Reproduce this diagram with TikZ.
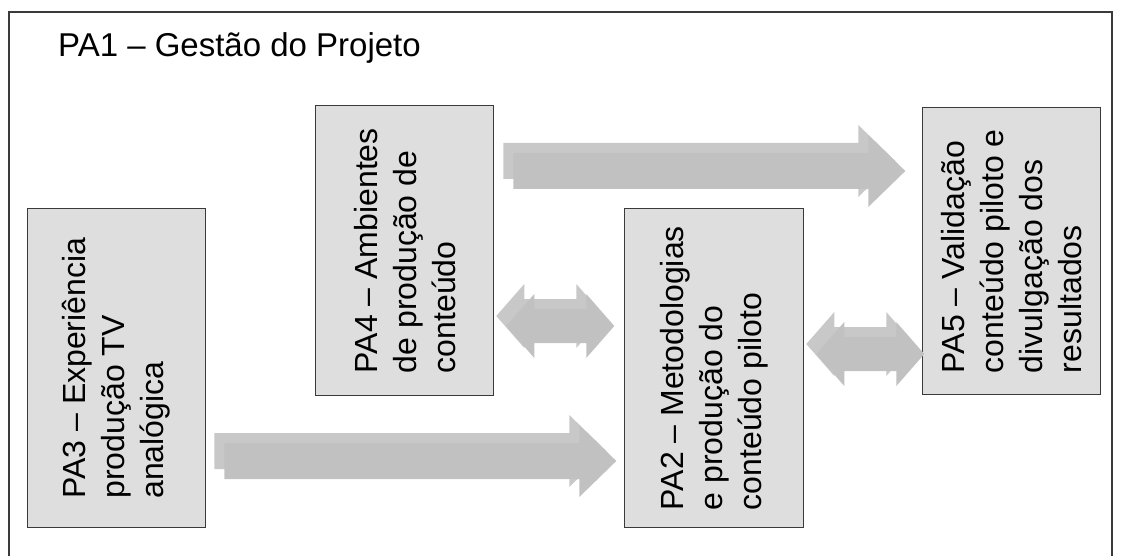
\documentclass[tikz,border=0pt]{standalone}
\usepackage{fontspec}
\setmainfont{Liberation Sans}
\usetikzlibrary{calc}

\definecolor{paframe}{HTML}{3A3A3A}
\definecolor{pafill}{HTML}{DEDEDE}
\definecolor{arrowback}{HTML}{C8C8C8}
\definecolor{arrowfront}{HTML}{C1C1C1}

\tikzset{
  pabox/.style={draw=paframe, fill=pafill, line width=1.3pt, anchor=north west, inner sep=0pt},
  patext/.style={rotate=90, align=left, inner sep=0pt, font=\fontsize{32}{39}\selectfont},
  pics/longarrow/.style={code={
    \foreach \dd/\col in {0/arrowback, 10/arrowfront}
      \fill[color=\col, shift={(\dd,\dd)}] (0,-18) -- (355,-18) -- (355,-36) -- (392,0)
        -- (355,36) -- (355,18) -- (0,18) -- cycle;
  }},
  pics/twoway/.style={code={
    \foreach \dd/\col in {0/arrowback, 10/arrowfront}
      \fill[color=\col, shift={(\dd,\dd)}] (0,0) -- (28,-32) -- (28,-17) -- (80,-17) -- (80,-32)
        -- (108,0) -- (80,32) -- (80,17) -- (28,17) -- (28,32) -- cycle;
  }},
}

\begin{document}
\begin{tikzpicture}[x=1pt, y=-1pt]
\useasboundingbox (0,0) rectangle (1121,556);
\clip (0,0) rectangle (1121,556);

% outer frame, open below
\draw[paframe, line width=1.3pt] (9,580) -- (9,12) -- (1112,12) -- (1112,580);
\node[anchor=base west, inner sep=0pt, font=\fontsize{33}{40}\selectfont] (pa1) at (58,57) {PA1 – Gestão do Projeto};

% work packages
\node[pabox, minimum width=178pt, minimum height=319pt] (pa3) at (27,208) {};
\node[pabox, minimum width=178pt, minimum height=290pt] (pa4) at (315,105) {};
\node[pabox, minimum width=179pt, minimum height=319pt] (pa2) at (624,208) {};
\node[pabox, minimum width=178pt, minimum height=287pt] (pa5) at (922,107) {};

\node[patext] (pa3txt) at (pa3) {PA3 – Experiência\\produção TV\\analógica};
\node[patext] (pa4txt) at (pa4) {PA4 – Ambientes\\de produção de\\conteúdo};
\node[patext] (pa2txt) at (pa2) {PA2 – Metodologias\\e produção do\\conteúdo piloto};
\node[patext] (pa5txt) at (pa5) {PA5 – Validação\\conteúdo piloto e\\divulgação dos\\resultados};

% flows between packages
\pic at ($(pa4.north east)+(9,56)$) {longarrow};
\pic at ($(pa3.north east)+(8,243)$) {longarrow};
\pic at ($(pa4.north east)+(2,211)$) {twoway};
\pic at ($(pa2.north east)+(2,136)$) {twoway};

\end{tikzpicture}
\end{document}
